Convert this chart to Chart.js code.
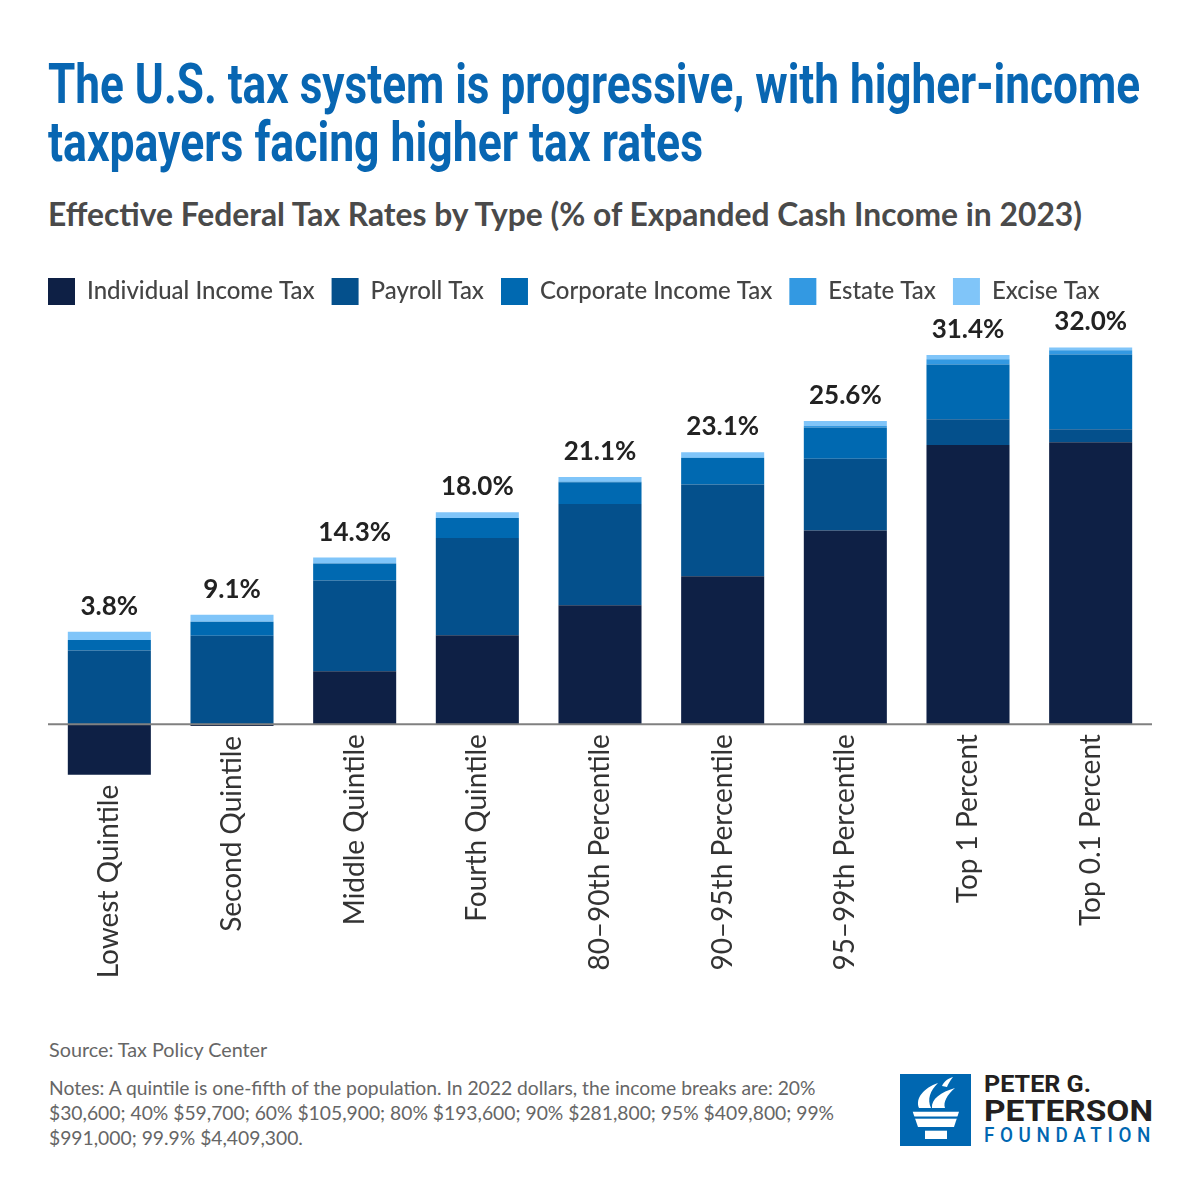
<!DOCTYPE html>
<html>
<head>
<meta charset="utf-8">
<script src="https://cdn.jsdelivr.net/npm/chart.js@4.4.1/dist/chart.umd.min.js"></script>
<style>
  html, body { margin: 0; padding: 0; background: #ffffff; }
  body { width: 1200px; height: 1200px; position: relative; overflow: hidden; font-family: Lato, sans-serif; }
  .abs { position: absolute; white-space: nowrap; }
  .title { left: 48px; font-family: Roboto, sans-serif; font-weight: 700; font-size: 56px; line-height: 56px; color: #0866b2; transform-origin: 0 0; display: inline-block; }
  .subtitle { left: 48px; top: 199px; font-family: Lato, sans-serif; font-weight: 700; font-size: 31.8px; line-height: 31.8px; color: #4a4a4a; }
  .source { left: 49px; top: 1040px; font-size: 19.8px; line-height: 19.8px; color: #666666; }
  .notes { left: 49px; top: 1075px; font-size: 19.3px; line-height: 25px; color: #666666; }
  #chartBox { position: absolute; left: 0; top: 261px; width: 1200px; height: 740px; }
  .logo-t { position: absolute; left: 984px; font-family: Roboto, sans-serif; font-weight: 700; color: #231f20; transform-origin: 0 0; display: inline-block; white-space: nowrap; }
</style>
</head>
<body>
<div class="abs title" id="t1" style="top:56px">The U.S. tax system is progressive, with higher-income</div>
<div class="abs title" id="t2" style="top:114px">taxpayers facing higher tax rates</div>
<div class="abs subtitle">Effective Federal Tax Rates by Type (% of Expanded Cash Income in 2023)</div>

<div id="chartBox"><canvas id="c"></canvas></div>

<div class="abs source">Source: Tax Policy Center</div>
<div class="abs notes">Notes: A quintile is one-fifth of the population. In 2022 dollars, the income breaks are: 20%<br>$30,600; 40% $59,700; 60% $105,900; 80% $193,600; 90% $281,800; 95% $409,800; 99%<br>$991,000; 99.9% $4,409,300.</div>

<svg style="position:absolute;left:900px;top:1074px" width="71" height="72" viewBox="0 0 71 72">
  <rect x="0" y="0" width="71" height="72" fill="#0067b1"/>
  <path d="M19 34 C15 24, 24 14, 38 9 C30 17, 27 25, 31 34 Z" fill="#ffffff"/>
  <path d="M32 34 C31 25, 41 18, 55 14 C47 21, 43 28, 45 34 Z" fill="#ffffff"/>
  <path d="M42 12 C44 7, 49 4, 53 3 C50 7, 48 10, 47 13 Z" fill="#ffffff"/>
  <polygon points="12.7,37.7 59,37.7 54,53 18,53" fill="#ffffff"/>
  <rect x="12" y="42.5" width="48" height="2.2" fill="#0067b1"/>
  <rect x="25" y="56.7" width="22" height="8.3" fill="#ffffff"/>
</svg>
<div class="logo-t" id="l1" style="top:1072px;font-size:24px;line-height:24px">PETER G.</div>
<div class="logo-t" id="l2" style="top:1096px;font-size:30px;line-height:30px">PETERSON</div>
<div class="logo-t" id="l3" style="top:1125px;font-size:20px;line-height:20px;font-weight:500;color:#0067b1;letter-spacing:6px">FOUNDATION</div>

<script>
// ---- data ----
const categories = ["Lowest Quintile", "Second Quintile", "Middle Quintile", "Fourth Quintile",
  "80\u201390th Percentile", "90\u201395th Percentile", "95\u201399th Percentile", "Top 1 Percent", "Top 0.1 Percent"];
const individualIncomeTax = [-4.3, -0.15, 4.5, 7.55, 10.1, 12.55, 16.45, 23.7, 23.95];
const payrollTax          = [6.25, 7.5, 7.7, 8.25, 8.6, 7.8, 6.1, 2.2, 1.1];
const corporateIncomeTax  = [0.9, 1.2, 1.45, 1.7, 1.85, 2.25, 2.65, 4.65, 6.35];
const estateTax           = [0.0, 0.0, 0.0, 0.0, 0.05, 0.05, 0.15, 0.45, 0.35];
const exciseTax           = [0.7, 0.6, 0.5, 0.5, 0.4, 0.45, 0.4, 0.35, 0.25];
const totalLabels         = ["3.8%", "9.1%", "14.3%", "18.0%", "21.1%", "23.1%", "25.6%", "31.4%", "32.0%"];
const seriesNames  = ["Individual Income Tax", "Payroll Tax", "Corporate Income Tax", "Estate Tax", "Excise Tax"];
const seriesColors = ["#0e2045", "#04508c", "#0069b1", "#3399e2", "#80c5f9"];
const seriesValues = [individualIncomeTax, payrollTax, corporateIncomeTax, estateTax, exciseTax];

// ---- text fitting for condensed-looking headings ----
function fitWidth(id, target) {
  const el = document.getElementById(id);
  el.style.transform = 'none';
  const w = el.getBoundingClientRect().width;
  el.style.transform = 'scaleX(' + (target / w) + ')';
}
function fitAll() {
  fitWidth('t1', 1092);
  fitWidth('t2', 655);
  fitWidth('l1', 107);
  fitWidth('l2', 169);
  fitWidth('l3', 172);
}
fitAll();
if (document.fonts && document.fonts.ready) document.fonts.ready.then(fitAll);

Chart.defaults.font.family = 'Lato, sans-serif';

// legend starts flush with the plot's left edge (as in the reference)
const legendAlign = {
  id: 'legendAlign',
  afterLayout(chart) {
    const lg = chart.legend;
    if (lg) {
      const p = lg.options.labels.padding;
      lg.left -= p;
      lg.right -= p;
    }
  }
};

const overlay = {
  id: 'overlay',
  afterDatasetsDraw(chart) {
    const { ctx, chartArea, scales } = chart;
    const xs = scales.x, ys = scales.y;
    const y0 = ys.getPixelForValue(0);
    ctx.save();
    ctx.strokeStyle = '#808080';
    ctx.lineWidth = 2;
    ctx.beginPath();
    ctx.moveTo(chartArea.left, y0);
    ctx.lineTo(chartArea.right, y0);
    ctx.stroke();
    categories.forEach((cat, i) => {
      const vals = seriesValues.map(s => s[i]);
      const pos = vals.filter(v => v > 0).reduce((a, b) => a + b, 0);
      const neg = vals.filter(v => v < 0).reduce((a, b) => a + b, 0);
      const cx = xs.getPixelForValue(i);
      ctx.font = 'bold 26px Lato, sans-serif';
      ctx.fillStyle = '#222222';
      ctx.textAlign = 'center';
      ctx.textBaseline = 'alphabetic';
      ctx.fillText(totalLabels[i], cx, ys.getPixelForValue(pos) - 17);
      const top = Math.max(y0, ys.getPixelForValue(neg)) + 10;
      ctx.save();
      ctx.translate(cx, top);
      ctx.rotate(-Math.PI / 2);
      ctx.font = '28px Lato, sans-serif';
      ctx.fillStyle = '#333333';
      ctx.textAlign = 'right';
      ctx.textBaseline = 'middle';
      ctx.fillText(cat, 0, 0);
      ctx.restore();
    });
    ctx.restore();
  }
};

new Chart(document.getElementById('c'), {
  type: 'bar',
  data: {
    labels: categories,
    datasets: seriesNames.map((name, k) => ({
      label: name,
      data: seriesValues[k],
      backgroundColor: seriesColors[k],
      borderWidth: 0,
      barPercentage: 0.677,
      categoryPercentage: 1.0
    }))
  },
  options: {
    responsive: true,
    maintainAspectRatio: false,
    animation: false,
    layout: { padding: { left: 48, right: 48, top: 0, bottom: 218 } },
    scales: {
      x: { stacked: true, display: false },
      y: { stacked: true, display: false, min: -5, max: 34.75 }
    },
    plugins: {
      tooltip: { enabled: false },
      legend: {
        position: 'top',
        align: 'start',
        labels: {
          boxWidth: 27,
          boxHeight: 27,
          padding: 17,
          color: '#444444',
          font: { size: 24, weight: '500', family: 'Lato, sans-serif' }
        }
      }
    }
  },
  plugins: [legendAlign, overlay]
});
</script>
</body>
</html>
